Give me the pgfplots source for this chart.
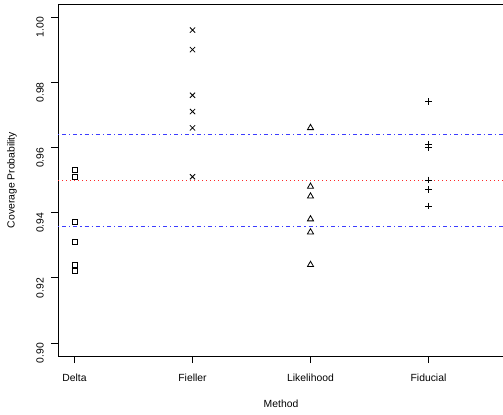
\documentclass[border=0pt]{standalone}
\usepackage{pgfplots}
\pgfplotsset{compat=1.18}
\usepackage{fontspec}
\setmainfont{Liberation Sans}
\definecolor{rblue}{RGB}{60,60,255}
\definecolor{rred}{RGB}{255,40,40}
\begin{document}
\fontsize{10.4}{12}\selectfont
\begin{tikzpicture}[x=1bp,y=1bp]
\useasboundingbox (-58,-58) rectangle (445,356);
\begin{axis}[
  at={(0,0)}, anchor=south west,
  scale only axis, width=446bp, height=352bp,
  xmin=0.86, xmax=4.64, ymin=0.896, ymax=1.004,
  axis y line*=left, axis x line*=box,
  axis line style={line width=0.8bp},
  xtick={1,2,3,4}, xticklabels={Delta,Fieller,Likelihood,Fiducial},
  ytick={0.90,0.92,0.94,0.96,0.98,1.00},
  xtick pos=bottom, ytick pos=left, tick align=outside,
  major tick length=7bp,
  tick style={line width=0.8bp,black},
  /pgf/number format/assume math mode=true,
  yticklabel={\pgfmathprintnumber[fixed,fixed zerofill,precision=2]{\tick}},
  yticklabel style={anchor=east, inner sep=0pt, xshift=-11bp, rotate=90},
  xticklabel style={anchor=north, inner sep=0pt, yshift=-11bp},
  xlabel={Method}, ylabel={Coverage Probability},
  xlabel style={at={(axis description cs:0.5,0)}, anchor=center, yshift=-48bp},
  ylabel style={at={(axis description cs:0,0.5)}, anchor=center, yshift=46bp},
  clip=true,
]
\addplot[rred, line width=0.9bp, dash pattern=on 1bp off 3bp] coordinates {(0.86,0.95) (4.64,0.95)};
\addplot[rblue, line width=1bp, dash pattern=on 1.2bp off 3bp on 4bp off 3bp] coordinates {(0.86,0.9358) (4.64,0.9358)};
\addplot[rblue, line width=1bp, dash pattern=on 1.2bp off 3bp on 4bp off 3bp] coordinates {(0.86,0.964) (4.64,0.964)};
\addplot[only marks, mark=square, mark size=2.5bp, mark options={line width=0.8bp, black}] coordinates {
(1,0.953) (1,0.951) (1,0.937) (1,0.931) (1,0.924) (1,0.922)};
\addplot[only marks, mark=x, mark size=3.7bp, mark options={line width=0.8bp, black}] coordinates {
(2,0.996) (2,0.990) (2,0.976) (2,0.971) (2,0.966) (2,0.951)};
\addplot[only marks, mark=triangle, mark size=3.5bp, mark options={line width=0.8bp, black}] coordinates {
(3,0.966) (3,0.948) (3,0.945) (3,0.938) (3,0.934) (3,0.924)};
\addplot[only marks, mark=+, mark size=3.4bp, mark options={line width=0.8bp, black}] coordinates {
(4,0.974) (4,0.961) (4,0.960) (4,0.950) (4,0.947) (4,0.942)};
\end{axis}
\end{tikzpicture}
\end{document}
